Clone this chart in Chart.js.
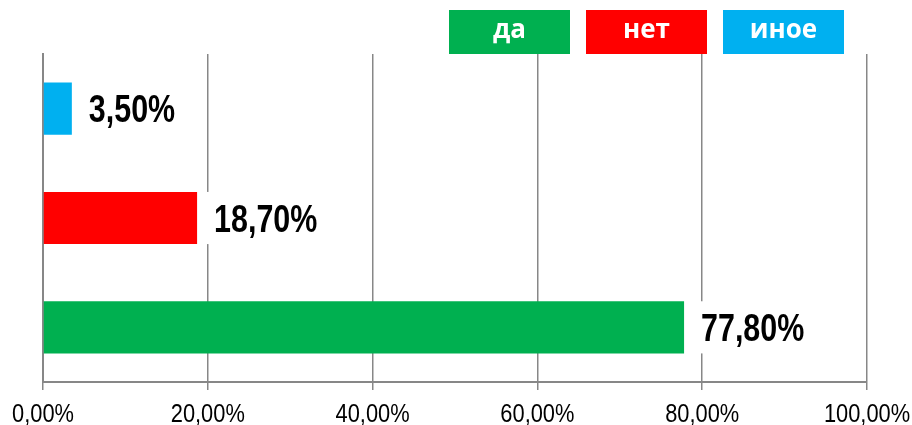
<!DOCTYPE html>
<html>
<head>
<meta charset="utf-8">
<script src="https://cdn.jsdelivr.net/npm/chart.js@4"></script>
<style>
  html, body { margin: 0; padding: 0; background: #fff; }
  #wrap { position: relative; width: 912px; height: 425px; }
  #legend { position: absolute; top: 10px; left: 449px; display: flex; gap: 16px; }
  .leg-item {
    width: 121px; height: 44px; line-height: 44px; text-align: center;
    color: #fff; font: bold 26px 'Open Sans', sans-serif;
  }
</style>
</head>
<body>
<div id="wrap">
  <canvas id="chart" width="912" height="425"></canvas>
  <div id="legend"></div>
</div>
<script>
// ==================== DATA ====================
const categories = ['да', 'нет', 'иное'];
const values = [77.8, 18.7, 3.5];
const barColors = ['#00B050', '#FF0000', '#00B0F0'];
const xTicks = [0, 20, 40, 60, 80, 100];

// no narrow font installed, so text is squeezed horizontally to look like Arial Narrow
const labelFont = "'Liberation Sans', Arial, sans-serif";
const gridColor = '#878787';

function fmtPct(v) {
  return v.toFixed(2).replace('.', ',') + '%';
}

// legend boxes
const legendEl = document.getElementById('legend');
categories.forEach((c, i) => {
  const d = document.createElement('div');
  d.className = 'leg-item';
  d.style.background = barColors[i];
  d.textContent = c;
  legendEl.appendChild(d);
});

function narrowText(ctx, txt, x, y, sx, align) {
  ctx.save();
  ctx.translate(x, y);
  ctx.scale(sx, 1);
  ctx.textAlign = align;
  ctx.fillText(txt, 0, 0);
  ctx.restore();
}

// value labels on white background, right of each bar
const valueLabels = {
  id: 'valueLabels',
  afterDatasetsDraw(chart) {
    const ctx = chart.ctx;
    const meta = chart.getDatasetMeta(0);
    const sx = 0.78;
    ctx.save();
    ctx.font = `bold 39px ${labelFont}`;
    ctx.textBaseline = 'middle';
    meta.data.forEach((bar, i) => {
      const txt = fmtPct(values[i]);
      const w = ctx.measureText(txt).width * sx;
      const h = bar.height;
      ctx.fillStyle = '#fff';
      ctx.fillRect(bar.x + 5, bar.y - h / 2, w + 24, h);
      ctx.fillStyle = '#000';
      narrowText(ctx, txt, bar.x + 17, bar.y + 3, sx, 'left');
    });
    ctx.restore();
  }
};

// x tick labels, placed from the x scale
const xTickLabels = {
  id: 'xTickLabels',
  afterDraw(chart) {
    const ctx = chart.ctx;
    const xs = chart.scales.x;
    ctx.save();
    ctx.font = `26px ${labelFont}`;
    ctx.fillStyle = '#000';
    ctx.textBaseline = 'alphabetic';
    xTicks.forEach(v => {
      narrowText(ctx, fmtPct(v), xs.getPixelForValue(v), 422, 0.84, 'center');
    });
    ctx.restore();
  }
};

const ctx = document.getElementById('chart').getContext('2d');
new Chart(ctx, {
  type: 'bar',
  data: {
    labels: categories,
    datasets: [{
      data: values,
      backgroundColor: barColors,
      borderWidth: 0,
      categoryPercentage: 1,
      barPercentage: 0.477
    }]
  },
  options: {
    indexAxis: 'y',
    responsive: false,
    animation: false,
    layout: { padding: { top: 54, left: 43, right: 45, bottom: 0 } },
    plugins: { legend: { display: false }, tooltip: { enabled: false } },
    scales: {
      x: {
        min: 0,
        max: 100,
        afterBuildTicks: s => { s.ticks = xTicks.map(v => ({ value: v })); },
        afterFit: s => { s.height = 43; },
        ticks: { display: false },
        grid: { color: gridColor, lineWidth: 1.5, tickLength: 8, drawTicks: true },
        border: { color: gridColor, width: 2 }
      },
      y: {
        reverse: true,
        afterFit: s => { s.width = 0; },
        ticks: { display: false },
        grid: { display: false },
        border: { color: gridColor, width: 2 }
      }
    }
  },
  plugins: [valueLabels, xTickLabels]
});
</script>
</body>
</html>
